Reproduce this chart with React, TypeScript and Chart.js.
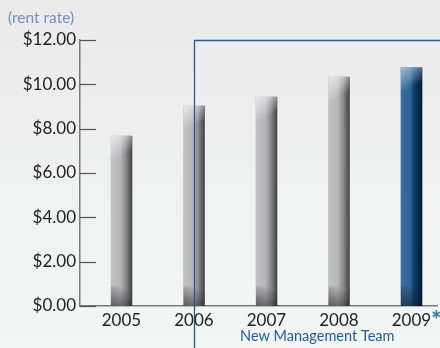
import React, { useEffect, useRef } from "react";
import { Chart, registerables } from "chart.js";

Chart.register(...registerables);

// ---- data ----
const years = ["2005", "2006", "2007", "2008", "2009"];
const rentRates = [7.67, 9.02, 9.43, 10.33, 10.74];
const yTickValues = [0, 2, 4, 6, 8, 10, 12];
const forecastIndex = 4; // 2009* highlighted in blue
const managementStartIndex = 1; // bracket starts at 2006
const axisCaption = "(rent rate)";
const bracketLabel = "New Management Team";
const forecastMark = "*";

const FONT = "Lato, 'Open Sans', sans-serif";

function barFill(c: any) {
  const chart = c.chart;
  const xs = chart.scales && chart.scales.x;
  const fallback = c.dataIndex === forecastIndex ? "#2d6294" : "#b6b6ba";
  if (!xs || c.type !== "data" || !c.raw) return fallback;
  const cx = xs.getPixelForValue(c.raw.x);
  if (!isFinite(cx)) return fallback;
  const half = 10.5;
  const g = chart.ctx.createLinearGradient(cx - half, 0, cx + half, 0);
  if (c.dataIndex === forecastIndex) {
    g.addColorStop(0, "#3c6e9f");
    g.addColorStop(0.45, "#2d6294");
    g.addColorStop(0.6, "#0f3f70");
    g.addColorStop(1, "#001a35");
  } else {
    g.addColorStop(0, "#c2c2c6");
    g.addColorStop(0.45, "#b6b6ba");
    g.addColorStop(0.7, "#8a8a8c");
    g.addColorStop(1, "#434343");
  }
  return g;
}

const decor = {
  id: "decor",
  afterDatasetsDraw(chart: any) {
    const ctx = chart.ctx;
    const meta = chart.getDatasetMeta(0);
    meta.data.forEach((el: any, i: number) => {
      const w = el.width;
      const x0 = el.x - w / 2;
      const top = el.y;
      const bottom = el.base;
      if (![w, x0, top, bottom].every((n) => isFinite(n))) return;
      ctx.save();
      // top highlight
      const hl = ctx.createLinearGradient(x0, top, x0 + w * 0.5, top + 20);
      const light = i === forecastIndex ? "rgba(190,210,230," : "rgba(245,245,245,";
      hl.addColorStop(0, light + "0.75)");
      hl.addColorStop(1, light + "0)");
      ctx.fillStyle = hl;
      ctx.fillRect(x0, top, w, 22);
      // bottom shade
      const sh = ctx.createLinearGradient(x0 + w * 0.5, bottom - 20, x0, bottom);
      sh.addColorStop(0, "rgba(20,20,20,0)");
      sh.addColorStop(1, "rgba(20,20,20,0.6)");
      ctx.fillStyle = sh;
      ctx.fillRect(x0, bottom - 20, w, 20);
      ctx.restore();
    });
  },
  afterDraw(chart: any) {
    const ctx = chart.ctx;
    const xs = chart.scales.x;
    const ys = chart.scales.y;
    const area = chart.chartArea;
    ctx.save();
    // inward y tick marks
    ctx.strokeStyle = "#555";
    ctx.lineWidth = 1.2;
    yTickValues.forEach((v) => {
      const py = Math.round(ys.getPixelForValue(v)) + 0.5;
      ctx.beginPath();
      ctx.moveTo(area.left, py);
      ctx.lineTo(area.left + 16, py);
      ctx.stroke();
    });
    // bracket
    const xb = Math.round(xs.getPixelForValue(managementStartIndex)) + 0.5;
    const yb = Math.round(ys.getPixelForValue(yTickValues[yTickValues.length - 1])) + 0.5;
    ctx.strokeStyle = "#1f5d96";
    ctx.lineWidth = 1.3;
    ctx.beginPath();
    ctx.moveTo(xb, chart.height);
    ctx.lineTo(xb, yb);
    ctx.lineTo(chart.width, yb);
    ctx.stroke();
    // bracket label
    ctx.fillStyle = "#235d96";
    ctx.font = "14.5px " + FONT;
    ctx.textAlign = "center";
    ctx.textBaseline = "middle";
    ctx.fillText(bracketLabel, (xb + chart.width) / 2, chart.height - 12);
    // caption
    ctx.fillStyle = "#6f91c2";
    ctx.font = "15.5px " + FONT;
    ctx.textAlign = "left";
    ctx.fillText(axisCaption, 8, 18);
    // forecast asterisk
    ctx.font = "17px " + FONT;
    const lw = ctx.measureText(years[forecastIndex]).width;
    const cx = xs.getPixelForValue(forecastIndex);
    ctx.font = "900 24px " + FONT;
    ctx.fillStyle = "#3a78b8";
    ctx.textAlign = "left";
    ctx.textBaseline = "middle";
    ctx.fillText(forecastMark, cx + lw / 2, xs.top + 4 + 10.2 + 1);
    ctx.restore();
  },
};

export default function App() {
  const ref = useRef<HTMLCanvasElement | null>(null);
  useEffect(() => {
    if (!ref.current) return;
    const chart = new Chart(ref.current, {
      type: "bar",
      data: {
        datasets: [
          {
            data: rentRates.map((v, i) => ({ x: i, y: v })),
            backgroundColor: barFill as any,
            barThickness: 21,
            borderWidth: 0,
          },
        ],
      },
      options: {
        responsive: false,
        maintainAspectRatio: false,
        animation: false,
        layout: { padding: { top: 40, right: 3, left: 0, bottom: 0 } },
        plugins: {
          legend: { display: false },
          tooltip: { enabled: false },
          title: { display: false },
        },
        scales: {
          x: {
            type: "linear",
            min: -0.572,
            max: 4.352,
            offset: false,
            afterBuildTicks: (s: any) => {
              s.ticks = years.map((_, i) => ({ value: i }));
            },
            afterFit: (s: any) => {
              s.height = 42;
            },
            grid: { display: false, drawTicks: false },
            border: { display: true, color: "#7a7a7a", width: 1.5 },
            ticks: {
              autoSkip: false,
              maxRotation: 0,
              padding: 4,
              color: "#222",
              font: { family: FONT, size: 17 },
              callback: (v: any) => years[v],
            },
          },
          y: {
            min: 0,
            max: 12,
            afterBuildTicks: (s: any) => {
              s.ticks = yTickValues.map((v) => ({ value: v }));
            },
            afterFit: (s: any) => {
              s.width = 80;
            },
            grid: { display: false, drawTicks: false },
            border: { display: true, color: "#7a7a7a", width: 1.5 },
            ticks: {
              padding: 4,
              color: "#222",
              font: { family: FONT, size: 17 },
              callback: (v: any) => "$" + Number(v).toFixed(2),
            },
          },
        },
      } as any,
      plugins: [decor],
    });
    return () => chart.destroy();
  }, []);
  return (
    <div
      style={{
        position: "absolute",
        left: 0,
        top: 0,
        width: 440,
        height: 348,
        background: "linear-gradient(#ebebeb, #f4f5f5)",
      }}
    >
      <canvas ref={ref} width={440} height={348} style={{ display: "block" }} />
    </div>
  );
}
